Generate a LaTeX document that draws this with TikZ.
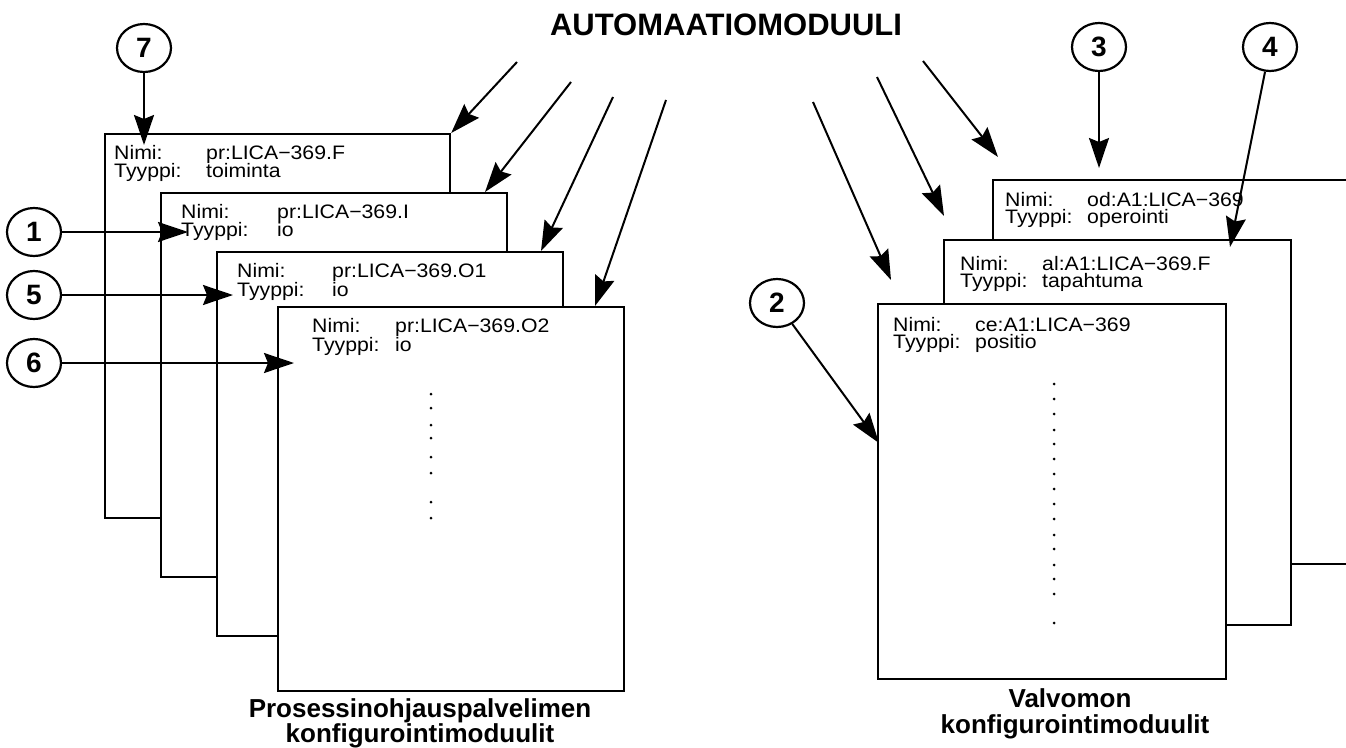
\documentclass[tikz,border=0pt]{standalone}
\usepackage{fontspec}
\setmainfont{Liberation Sans}
\newfontfamily\cardfont[FakeStretch=1.09]{Liberation Sans}
\usetikzlibrary{arrows.meta,shapes.geometric}
\begin{document}
\begin{tikzpicture}[x=1pt,y=-1pt,
  card/.style={draw,line width=2.2pt,fill=white,rectangle,inner sep=0pt,anchor=north west},
  txt/.style={anchor=base west,inner sep=0pt,font=\cardfont\fontsize{19.5}{22}\selectfont},
  numc/.style={ellipse,draw,line width=2.2pt,minimum width=54pt,minimum height=48pt,inner sep=0pt,font=\bfseries\fontsize{28}{28}\selectfont},
  conn/.style={line width=2pt,-{Stealth[length=30pt,width=20pt,inset=4pt]}},
  heading/.style={anchor=base,inner sep=0pt,font=\bfseries\fontsize{26}{26}\selectfont},
  vdot/.style={circle,fill,inner sep=0pt,minimum size=3pt}
]
\useasboundingbox (0,0) rectangle (1346,747);
\clip (0,0) rectangle (1346,747);

% ---- process-control server modules ----
\node[card,minimum width=345pt,minimum height=384pt] (bxA) at (104,133) {};
\node[txt] (nA) at (114,159) {Nimi:};
\node[txt] (vA) at (206,159) {pr:LICA−369.F};
\node[txt] (tA) at (114,177) {Tyyppi:};
\node[txt] (wA) at (206,177) {toiminta};

\node[card,minimum width=346pt,minimum height=384pt] (bxB) at (160,192) {};
\node[txt] (nB) at (181,218) {Nimi:};
\node[txt] (vB) at (277,218) {pr:LICA−369.I};
\node[txt] (tB) at (181,236) {Tyyppi:};
\node[txt] (wB) at (277,236) {io};

\node[card,minimum width=346pt,minimum height=384pt] (bxC) at (216,251) {};
\node[txt] (nC) at (237,277) {Nimi:};
\node[txt] (vC) at (332,277) {pr:LICA−369.O1};
\node[txt] (tC) at (237,296) {Tyyppi:};
\node[txt] (wC) at (332,296) {io};

\node[card,minimum width=346pt,minimum height=384pt] (bxD) at (277,306) {};
\node[txt] (nD) at (312,332) {Nimi:};
\node[txt] (vD) at (395,332) {pr:LICA−369.O2};
\node[txt] (tD) at (312,351) {Tyyppi:};
\node[txt] (wD) at (395,351) {io};
\foreach \i/\yy in {1/394,2/408,3/425,4/438,5/457,6/473,7/502,8/518}
  \node[vdot] (dl\i) at (431,\yy) {};

% ---- control room modules ----
\node[card,minimum width=400pt,minimum height=384pt] (bxE) at (992,179) {};
\node[txt] (nE) at (1005,206) {Nimi:};
\node[txt] (vE) at (1087,206) {od:A1:LICA−369};
\node[txt] (tE) at (1005,223) {Tyyppi:};
\node[txt] (wE) at (1087,223) {operointi};

\node[card,minimum width=347pt,minimum height=385pt] (bxF) at (943,239) {};
\node[txt] (nF) at (960,270) {Nimi:};
\node[txt] (vF) at (1042,270) {al:A1:LICA−369.F};
\node[txt] (tF) at (960,287) {Tyyppi:};
\node[txt] (wF) at (1042,287) {tapahtuma};

\node[card,minimum width=348pt,minimum height=375pt] (bxG) at (877,303) {};
\node[txt] (nG) at (893,331) {Nimi:};
\node[txt] (vG) at (975,331) {ce:A1:LICA−369};
\node[txt] (tG) at (893,348) {Tyyppi:};
\node[txt] (wG) at (975,348) {positio};
\foreach \i/\yy in {1/384,2/399,3/414,4/430,5/444,6/459,7/474,8/489,9/504,10/519,11/535,12/549,13/565,14/579,15/594,16/623}
  \node[vdot] (dr\i) at (1054,\yy) {};

% ---- headings ----
\node[anchor=base,inner sep=0pt,font=\bfseries\fontsize{31}{31}\selectfont] (title) at (726,35) {AUTOMAATIOMODUULI};
\node[heading] (lp1) at (420,717) {Prosessinohjauspalvelimen};
\node[heading] (lp2) at (420,742) {konfigurointimoduulit};
\node[heading] (lv1) at (1070,707) {Valvomon};
\node[heading] (lv2) at (1075,733) {konfigurointimoduulit};

% ---- numbered markers ----
\node[numc] (c7) at (144,48) {7};
\node[numc] (c1) at (34,232) {1};
\node[numc] (c5) at (34,295) {5};
\node[numc] (c6) at (34,363) {6};
\node[numc] (c2) at (777,303) {2};
\node[numc] (c3) at (1099,47) {3};
\node[numc] (c4) at (1270,47) {4};

\coordinate (t7) at (144,145);
\coordinate (t1) at (188,232);
\coordinate (t5) at (233,295);
\coordinate (t6) at (294,363);
\coordinate (t2) at (879,443);
\coordinate (t3) at (1099,168);
\coordinate (t4) at (1230,247);
\draw[conn] (c7) -- (t7);
\draw[conn] (c1) -- (t1);
\draw[conn] (c5) -- (t5);
\draw[conn] (c6) -- (t6);
\draw[conn] (c2) -- (t2);
\draw[conn] (c3) -- (t3);
\draw[conn] (c4) -- (t4);

% ---- links from the automation module ----
\coordinate (sA) at (517,62);
\coordinate (sB) at (571,82);
\coordinate (sC) at (613,97);
\coordinate (sD) at (666,100);
\coordinate (sG) at (813,102);
\coordinate (sF) at (877,77);
\coordinate (sE) at (923,61);
\draw[conn] (sA) -- (bxA.north east);
\draw[conn] (sB) -- (485,192) coordinate (eB);
\draw[conn] (sC) -- (541,251) coordinate (eC);
\draw[conn] (sD) -- (595,306) coordinate (eD);
\draw[conn] (sG) -- (891,280) coordinate (eG);
\draw[conn] (sF) -- (944,216) coordinate (eF);
\draw[conn] (sE) -- (998,157) coordinate (eE);
\end{tikzpicture}
\end{document}
